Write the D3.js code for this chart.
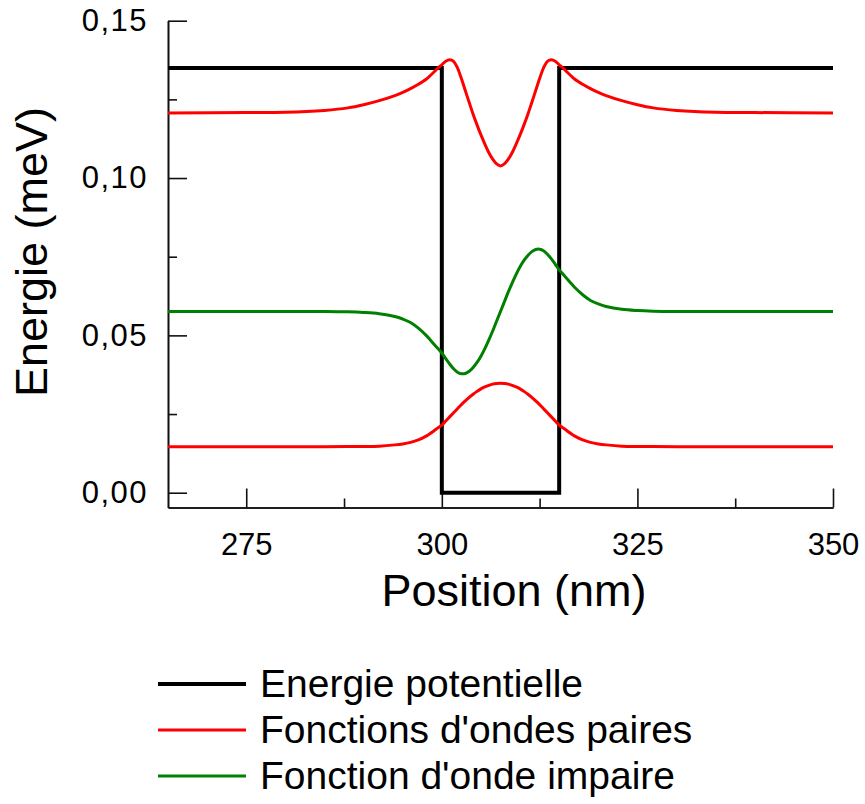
<!DOCTYPE html>
<html>
<head>
<meta charset="utf-8">
<script src="https://cdn.jsdelivr.net/npm/d3@7"></script>
<style>
  html, body { margin: 0; padding: 0; background: #fff; }
  svg { display: block; font-family: "Liberation Sans", Arial, Helvetica, sans-serif; }
</style>
</head>
<body>
<svg id="chart" width="865" height="804"></svg>
<script>
// ---- Data ----
const positionNm = [
  265, 275, 280, 285, 288, 290, 292, 294, 295, 296, 297, 298, 298.5, 299, 299.5,
  300, 300.5, 301, 301.5, 302, 302.5, 303, 303.5, 304, 304.5, 305, 305.5, 306, 306.5, 307,
  307.5, 308, 308.5, 309, 309.5, 310, 310.5, 311, 311.5, 312, 312.5, 313, 313.5, 314, 314.5, 315,
  315.5, 316, 316.5, 317, 318, 319, 320, 321, 323, 325, 327, 330, 335, 340, 350
];
// Even wave function, ground state (meV, offset at its energy)
const evenGround = [
  0.0146, 0.0146, 0.0146, 0.0146, 0.0147, 0.0147, 0.0148, 0.0152, 0.0155, 0.0160, 0.0168, 0.0180, 0.0188, 0.0197, 0.0206,
  0.0215, 0.0228, 0.0241, 0.0254, 0.0267, 0.0280, 0.0292, 0.0303, 0.0313, 0.0322, 0.0330, 0.0336, 0.0341, 0.0345, 0.0347,
  0.0348, 0.0347, 0.0345, 0.0341, 0.0336, 0.0330, 0.0322, 0.0313, 0.0303, 0.0292, 0.0280, 0.0267, 0.0254, 0.0241, 0.0228, 0.0215,
  0.0206, 0.0197, 0.0188, 0.0180, 0.0168, 0.0160, 0.0155, 0.0152, 0.0148, 0.0147, 0.0147, 0.0146, 0.0146, 0.0146, 0.0146
];
// Even wave function, second even state
const evenSecond = [
  0.1207, 0.1208, 0.1209, 0.1215, 0.1223, 0.1233, 0.1246, 0.1262, 0.1272, 0.1284, 0.1298, 0.1314, 0.1325, 0.1337, 0.1349,
  0.1360, 0.1371, 0.1376, 0.1371, 0.1350, 0.1316, 0.1278, 0.1240, 0.1203, 0.1169, 0.1137, 0.1108, 0.1081, 0.1060, 0.1045,
  0.1038, 0.1045, 0.1060, 0.1081, 0.1108, 0.1137, 0.1169, 0.1203, 0.1240, 0.1278, 0.1316, 0.1350, 0.1371, 0.1376, 0.1371, 0.1360,
  0.1349, 0.1337, 0.1325, 0.1314, 0.1298, 0.1284, 0.1272, 0.1262, 0.1246, 0.1233, 0.1223, 0.1215, 0.1209, 0.1208, 0.1207
];
// Odd wave function
const oddFirst = [
  0.0576, 0.0576, 0.0576, 0.0576, 0.0575, 0.0573, 0.0569, 0.0560, 0.0552, 0.0541, 0.0523, 0.0500, 0.0486, 0.0472, 0.0458,
  0.0444, 0.0426, 0.0409, 0.0394, 0.0383, 0.0378, 0.0379, 0.0386, 0.0398, 0.0414, 0.0434, 0.0458, 0.0485, 0.0514, 0.0545,
  0.0576, 0.0607, 0.0638, 0.0667, 0.0694, 0.0718, 0.0738, 0.0754, 0.0766, 0.0773, 0.0774, 0.0769, 0.0758, 0.0743, 0.0726, 0.0708,
  0.0694, 0.0680, 0.0666, 0.0652, 0.0629, 0.0611, 0.0600, 0.0592, 0.0583, 0.0579, 0.0577, 0.0576, 0.0576, 0.0576, 0.0576
];
// Potential energy (square well)
const potentialX = [265, 300, 300, 315, 315, 350];
const potentialE = [0.135, 0.135, 0, 0, 0.135, 0.135];

const xMajorTicks = [275, 300, 325, 350];
const xMinorTicks = [287.5, 312.5, 337.5];
const yMajorTicks = [0, 0.05, 0.10, 0.15];
const yMinorTicks = [0.025, 0.075, 0.125];

const legendLabels = ["Energie potentielle", "Fonctions d'ondes paires", "Fonction d'onde impaire"];
const xTitle = "Position (nm)";
const yTitle = "Energie (meV)";

// ---- Drawing ----
const svg = d3.select("#chart");
const x = d3.scaleLinear().domain([265, 350]).range([168, 833]);
const y = d3.scaleLinear().domain([-0.0047, 0.15]).range([507.5, 20.7]);

const fmtY = v => d3.format(".2f")(v).replace(".", ",");

// Axes
const axisColor = "#111";
const yAxis = svg.append("g").attr("transform", "translate(168,0)")
  .call(d3.axisLeft(y).tickValues(yMajorTicks).tickFormat(fmtY)
        .tickSizeInner(-19).tickSizeOuter(0).tickPadding(20));
const yMinor = svg.append("g").attr("transform", "translate(168,0)")
  .call(d3.axisLeft(y).tickValues(yMinorTicks).tickFormat("")
        .tickSizeInner(-9).tickSizeOuter(0));
const xAxis = svg.append("g").attr("transform", "translate(0,507.5)")
  .call(d3.axisBottom(x).tickValues(xMajorTicks).tickFormat(d3.format("d"))
        .tickSizeInner(-19).tickSizeOuter(0).tickPadding(25));
const xMinor = svg.append("g").attr("transform", "translate(0,507.5)")
  .call(d3.axisBottom(x).tickValues(xMinorTicks).tickFormat("")
        .tickSizeInner(-9).tickSizeOuter(0));

[yAxis, yMinor, xAxis, xMinor].forEach(g => {
  g.selectAll("path.domain").attr("stroke", axisColor).attr("stroke-width", 1.6);
  g.selectAll(".tick line").attr("stroke", axisColor).attr("stroke-width", 1.6);
  g.selectAll(".tick text").attr("fill", "#000").style("font-size", "31px")
    .style("font-family", "'Liberation Sans', Arial, sans-serif");
});
yAxis.selectAll(".tick text").attr("letter-spacing", "1.5px");

// Lines
const curveLine = d3.line()
  .x((d, i) => x(positionNm[i]))
  .y(d => y(d))
  .curve(d3.curveCatmullRom.alpha(0.5));

const potLine = d3.line()
  .x((d, i) => x(potentialX[i]))
  .y(d => y(d));

svg.append("path").datum(potentialE).attr("d", potLine)
  .attr("fill", "none").attr("stroke", "#000").attr("stroke-width", 4)
  .attr("stroke-linejoin", "miter");

svg.append("path").datum(evenGround).attr("d", curveLine)
  .attr("fill", "none").attr("stroke", "#ff0000").attr("stroke-width", 3);
svg.append("path").datum(evenSecond).attr("d", curveLine)
  .attr("fill", "none").attr("stroke", "#ff0000").attr("stroke-width", 3);
svg.append("path").datum(oddFirst).attr("d", curveLine)
  .attr("fill", "none").attr("stroke", "#008000").attr("stroke-width", 3);

// Titles
svg.append("text").attr("x", 514).attr("y", 606).attr("text-anchor", "middle")
  .style("font-size", "45px").text(xTitle);
svg.append("text").attr("transform", "translate(47,252) rotate(-90)")
  .attr("text-anchor", "middle").style("font-size", "45px").text(yTitle);

// Legend
const legendColors = ["#000", "#ff0000", "#008000"];
const legendWidths = [4, 3, 3];
const legend = svg.append("g");
legendLabels.forEach((lab, i) => {
  const yy = 684 + i * 46;
  legend.append("line").attr("x1", 158).attr("x2", 246).attr("y1", yy).attr("y2", yy)
    .attr("stroke", legendColors[i]).attr("stroke-width", legendWidths[i]);
  legend.append("text").attr("x", 260).attr("y", yy + 13)
    .style("font-size", "39px").text(lab);
});
</script>
</body>
</html>
